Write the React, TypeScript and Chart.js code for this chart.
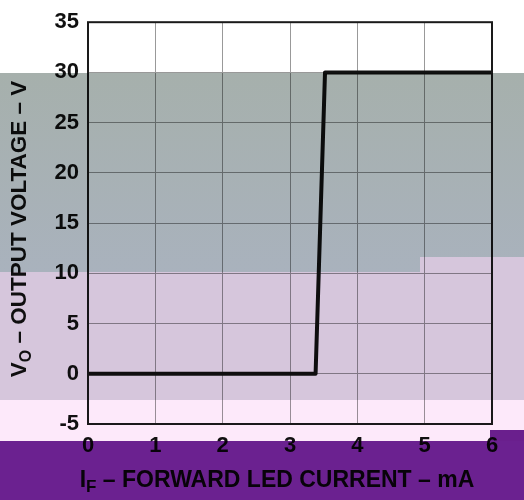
import React, { useEffect, useRef } from "react";
import { Chart, registerables } from "chart.js";

Chart.register(...registerables);

const currentMA = [0, 3.38, 3.52, 6];
const outputV = [0, 0, 30, 30];
const xTicks = [0, 1, 2, 3, 4, 5, 6];
const yTicks = [-5, 0, 5, 10, 15, 20, 25, 30, 35];
const yTitleMain = "V";
const yTitleSub = "O";
const yTitleRest = " – OUTPUT VOLTAGE – V";
const xTitleMain = "I";
const xTitleSub = "F";
const xTitleRest = " – FORWARD LED CURRENT – mA";

const FONT = '"Liberation Sans", Arial, sans-serif';

const bgPlugin = {
  id: "bg",
  beforeDraw(chart: any) {
    const ctx = chart.ctx;
    ctx.save();
    ctx.fillStyle = "#ffffff";
    ctx.fillRect(0, 0, chart.width, chart.height);
    ctx.restore();
  },
};

function drawSubTitle(ctx: any, main: string, sub: string, rest: string, size: number) {
  ctx.font = `bold ${size}px ${FONT}`;
  const w1 = ctx.measureText(main).width;
  ctx.font = `bold ${Math.round(size * 0.72)}px ${FONT}`;
  const w2 = ctx.measureText(sub).width;
  ctx.font = `bold ${size}px ${FONT}`;
  const w3 = ctx.measureText(rest).width;
  const total = w1 + w2 + w3;
  let x = -total / 2;
  ctx.textBaseline = "alphabetic";
  ctx.textAlign = "left";
  ctx.fillText(main, x, size * 0.36);
  x += w1;
  ctx.font = `bold ${Math.round(size * 0.72)}px ${FONT}`;
  ctx.fillText(sub, x, size * 0.36 + size * 0.22);
  x += w2;
  ctx.font = `bold ${size}px ${FONT}`;
  ctx.fillText(rest, x, size * 0.36);
}

const decoPlugin = {
  id: "deco",
  afterDraw(chart: any) {
    const ctx = chart.ctx;
    const a = chart.chartArea;
    ctx.save();
    // frame
    ctx.strokeStyle = "#1a1a1a";
    ctx.lineWidth = 2;
    ctx.strokeRect(a.left, a.top, a.right - a.left, a.bottom - a.top);
    // titles
    ctx.fillStyle = "#111";
    ctx.save();
    ctx.translate(18, 229);
    ctx.rotate(-Math.PI / 2);
    drawSubTitle(ctx, yTitleMain, yTitleSub, yTitleRest, 22.5);
    ctx.restore();
    ctx.save();
    ctx.translate(277, 479);
    drawSubTitle(ctx, xTitleMain, xTitleSub, xTitleRest, 23);
    ctx.restore();

    // colour bands (multiply overlay)
    ctx.globalCompositeOperation = "multiply";
    const W = chart.width;
    const g = ctx.createLinearGradient(0, 73, 0, 272);
    g.addColorStop(0, "#a6b0ac");
    g.addColorStop(1, "#a9b2bd");
    ctx.fillStyle = g;
    ctx.fillRect(0, 73, 420, 199);
    ctx.fillRect(420, 73, W - 420, 184);
    ctx.fillStyle = "#d6c6dc";
    ctx.fillRect(0, 272, 420, 128);
    ctx.fillRect(420, 257, W - 420, 143);
    ctx.fillStyle = "#fde9fa";
    ctx.fillRect(0, 400, W, 41);
    ctx.fillStyle = "#6b2190";
    ctx.fillRect(0, 441, W, 59);
    ctx.fillRect(490, 430, W - 490, 11);
    ctx.restore();
  },
};

export default function App() {
  const ref = useRef<HTMLCanvasElement | null>(null);
  useEffect(() => {
    document.body.style.margin = "0";
    const canvas = ref.current!;
    const chart = new Chart(canvas, {
      type: "line",
      data: {
        datasets: [
          {
            data: currentMA.map((x, i) => ({ x, y: outputV[i] })),
            borderColor: "#111111",
            borderWidth: 4,
            pointRadius: 0,
            tension: 0,
            borderJoinStyle: "round",
            borderCapStyle: "round",
            fill: false,
          },
        ],
      },
      options: {
        responsive: false,
        animation: false,
        devicePixelRatio: 1,
        layout: { padding: { left: 0, right: 32, top: 20, bottom: 0 } },
        plugins: { legend: { display: false }, tooltip: { enabled: false } },
        scales: {
          x: {
            type: "linear",
            min: 0,
            max: 6,
            afterBuildTicks: (s: any) => {
              s.ticks = xTicks.map((v) => ({ value: v }));
            },
            afterFit: (s: any) => {
              s.height = 76;
            },
            grid: { color: "#999999", lineWidth: 1, drawTicks: false },
            border: { display: false },
            ticks: {
              padding: 9,
              color: "#111",
              font: { family: FONT, size: 22, weight: "bold" },
              maxRotation: 0,
            },
          },
          y: {
            type: "linear",
            min: -5,
            max: 35,
            afterBuildTicks: (s: any) => {
              s.ticks = yTicks.map((v) => ({ value: v }));
            },
            afterFit: (s: any) => {
              s.width = 88;
            },
            grid: { color: "#999999", lineWidth: 1, drawTicks: false },
            border: { display: false },
            ticks: {
              padding: 9,
              color: "#111",
              font: { family: FONT, size: 22, weight: "bold" },
            },
          },
        },
      },
      plugins: [bgPlugin, decoPlugin],
    } as any);
    return () => chart.destroy();
  }, []);
  return <canvas ref={ref} width={524} height={500} style={{ display: "block" }} />;
}
